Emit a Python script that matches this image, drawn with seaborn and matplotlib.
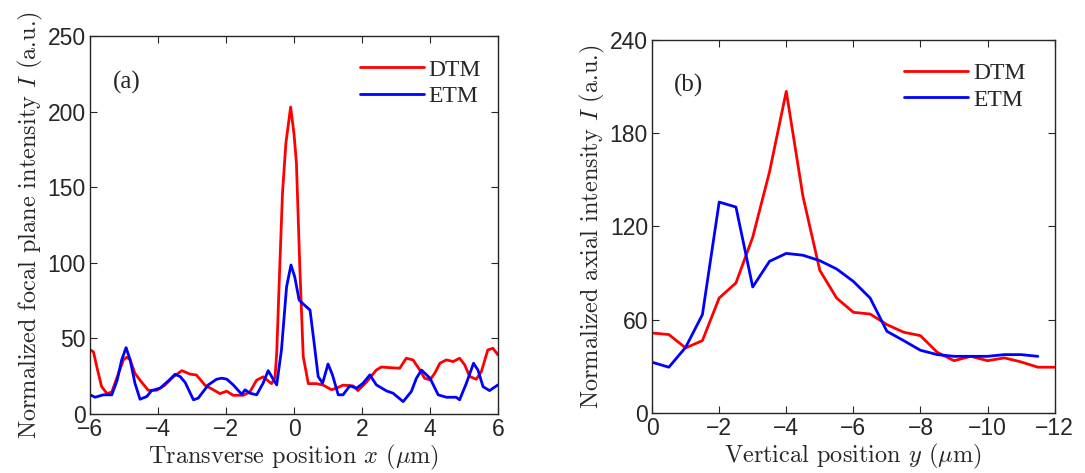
import numpy as np
import pandas as pd
import matplotlib
matplotlib.use("Agg")
import matplotlib.pyplot as plt
import seaborn as sns

# panel (a): focal plane intensity vs transverse position x
x_dtm = [-6.0, -5.9, -5.8, -5.66, -5.5, -5.36, -5.2, -5.02, -4.92, -4.82, -4.68, -4.53,
         -4.29, -4.04, -3.8, -3.55, -3.3, -3.06, -2.87, -2.62, -2.38, -2.18, -1.98, -1.79,
         -1.49, -1.3, -1.1, -0.91, -0.66, -0.56, -0.51, -0.42, -0.34, -0.24, -0.1, 0.0,
         0.07, 0.17, 0.27, 0.42, 0.66, 0.86, 1.1, 1.25, 1.44, 1.74, 1.88, 2.13, 2.42,
         2.57, 2.81, 3.11, 3.3, 3.5, 3.7, 3.84, 4.0, 4.14, 4.29, 4.48, 4.68, 4.87, 5.02,
         5.17, 5.36, 5.51, 5.7, 5.85, 6.0]
i_dtm = [42.4, 41, 31, 18, 13.4, 14.5, 24.5, 35.7, 37.5, 35.7, 26.8, 22.3,
         15.6, 15.6, 19, 24.5, 28.6, 26.3, 25.7, 19, 16, 13.4, 15, 12.3,
         12.3, 14.5, 22.3, 24.5, 20, 24, 40, 97, 146, 179, 203, 185,
         166, 97, 38, 20, 20, 19, 16, 17, 19, 18.5, 15.4, 21, 29,
         31, 30.6, 30.2, 36.8, 35.7, 29, 23.6, 22.5, 26.9, 33.5, 35.7, 34.6, 36.8, 32.4,
         24.7, 22.9, 28, 42.3, 43.4, 39]

x_etm = [-6.0, -5.85, -5.61, -5.36, -5.2, -5.07, -4.94, -4.82, -4.68, -4.53, -4.33, -4.19,
         -3.94, -3.7, -3.5, -3.35, -3.2, -2.96, -2.82, -2.52, -2.28, -2.13, -1.98, -1.79,
         -1.54, -1.44, -1.3, -1.1, -0.91, -0.76, -0.63, -0.51, -0.37, -0.22, -0.09, 0.02,
         0.15, 0.27, 0.47, 0.58, 0.71, 0.84, 1.0, 1.13, 1.3, 1.44, 1.64, 1.84, 2.03,
         2.23, 2.42, 2.72, 2.91, 3.21, 3.45, 3.6, 3.75, 4.0, 4.24, 4.48, 4.77, 4.87,
         5.07, 5.28, 5.41, 5.56, 5.75, 6.0]
i_etm = [12.6, 11, 12.6, 12.6, 22.5, 35.7, 43.8, 35.7, 20.3, 9.7, 11.5, 15.4,
         17, 21.8, 26.2, 24.7, 20.7, 9.3, 10.4, 19.2, 22.9, 23.6, 23, 19.2,
         13, 15.9, 13.7, 12.6, 20.3, 28.6, 23.6, 19.2, 42.3, 84, 98.5, 90.7,
         75.3, 72.7, 68.7, 48.9, 24.7, 20.3, 33, 25.8, 12.6, 12.6, 18.5, 17, 20.3,
         25.8, 19.2, 15.2, 13.7, 8.1, 14.8, 23.6, 29, 23.6, 12.6, 11, 11, 9.3,
         20.3, 33.5, 29, 18, 15.4, 19.2]

# panel (b): axial intensity vs vertical position y
y_dtm = [0, -0.5, -1, -1.5, -2, -2.5, -3, -3.5, -4, -4.5, -5, -5.5, -6, -6.5, -7, -7.5,
         -8, -8.5, -9, -9.5, -10, -10.5, -11, -11.5, -12]
a_dtm = [51.4, 50.4, 41.8, 46.5, 73.9, 83.6, 113, 155, 206.8, 139, 91.7, 73.9, 64.7, 63.6,
         56.8, 51.9, 49.7, 39, 33.6, 36.4, 33.6, 35.4, 32.8, 29.4, 29.4]
y_etm = [0, -0.5, -1, -1.5, -2, -2.5, -3, -3.5, -4, -4.5, -5, -5.5, -6, -6.5, -7, -7.5,
         -8, -8.5, -9, -9.5, -10, -10.5, -11, -11.5]
a_etm = [32.6, 29.4, 42.2, 63.2, 135.6, 132.4, 81, 97.5, 102.6, 101.4, 97.9, 92.6, 84.6,
         73.9, 52.5, 46.5, 40.3, 37.5, 36.4, 36.4, 36.4, 37.5, 37.5, 36.4]

sns.set_style("ticks")
plt.rcParams["font.family"] = ["Liberation Sans", "DejaVu Sans"]
plt.rcParams["mathtext.fontset"] = "cm"
plt.rcParams["axes.unicode_minus"] = True

df_a = pd.concat([pd.DataFrame({"pos": x_dtm, "I": i_dtm, "method": "DTM"}),
                  pd.DataFrame({"pos": x_etm, "I": i_etm, "method": "ETM"})])
df_b = pd.concat([pd.DataFrame({"pos": y_dtm, "I": a_dtm, "method": "DTM"}),
                  pd.DataFrame({"pos": y_etm, "I": a_etm, "method": "ETM"})])
pal = {"DTM": "#ff0000", "ETM": "#0000ff"}

fig = plt.figure(figsize=(10.85, 4.73), dpi=100)
ax1 = fig.add_axes([0.083, 0.125, 0.376, 0.799])
ax2 = fig.add_axes([0.601, 0.127, 0.371, 0.789])

sns.lineplot(data=df_a, x="pos", y="I", hue="method", palette=pal, estimator=None,
             sort=True, lw=2, ax=ax1)
sns.lineplot(data=df_b, x="pos", y="I", hue="method", palette=pal, estimator=None,
             sort=True, lw=2, ax=ax2)

lab_kw = dict(fontsize=17.5, family="cmr10")

ax1.set_xlim(-6, 6)
ax1.set_ylim(0, 250)
ax1.set_xticks(np.arange(-6, 7, 2))
ax1.set_yticks(np.arange(0, 251, 50))
ax1.set_xlabel(r"Transverse position $x$ ($\mu$m)", labelpad=1, **lab_kw)
ax1.set_ylabel(r"Normalized focal plane intensity $I$ (a.u.)", labelpad=2, **lab_kw)

ax2.set_xlim(0, -12)
ax2.set_ylim(0, 240)
ax2.set_xticks(np.arange(0, -13, -2))
ax2.set_yticks(np.arange(0, 241, 60))
ax2.set_xlabel(r"Vertical position $y$ ($\mu$m)", labelpad=1, **lab_kw)
ax2.set_ylabel(r"Normalized axial intensity $I$ (a.u.)", labelpad=2, **lab_kw)

for ax, lab, anc in [(ax1, "(a)", (1.01, 0.995)), (ax2, "(b)", (0.98, 0.995))]:
    ax.tick_params(direction="in", top=True, right=True, labelsize=16.5, length=5, width=0.8,
                   pad=3)
    for s in ax.spines.values():
        s.set_linewidth(1.0)
    ax.text(0.055, 0.86, lab, transform=ax.transAxes, fontsize=18,
            family="Liberation Serif")
    leg = ax.legend(loc="upper right", frameon=False, handlelength=2.7, handletextpad=0.2,
                    labelspacing=0.2, bbox_to_anchor=anc,
                    prop={"family": "Liberation Serif", "size": 17})
    for h in leg.get_lines():
        h.set_linewidth(2)

fig.savefig("out.png", dpi=100)
